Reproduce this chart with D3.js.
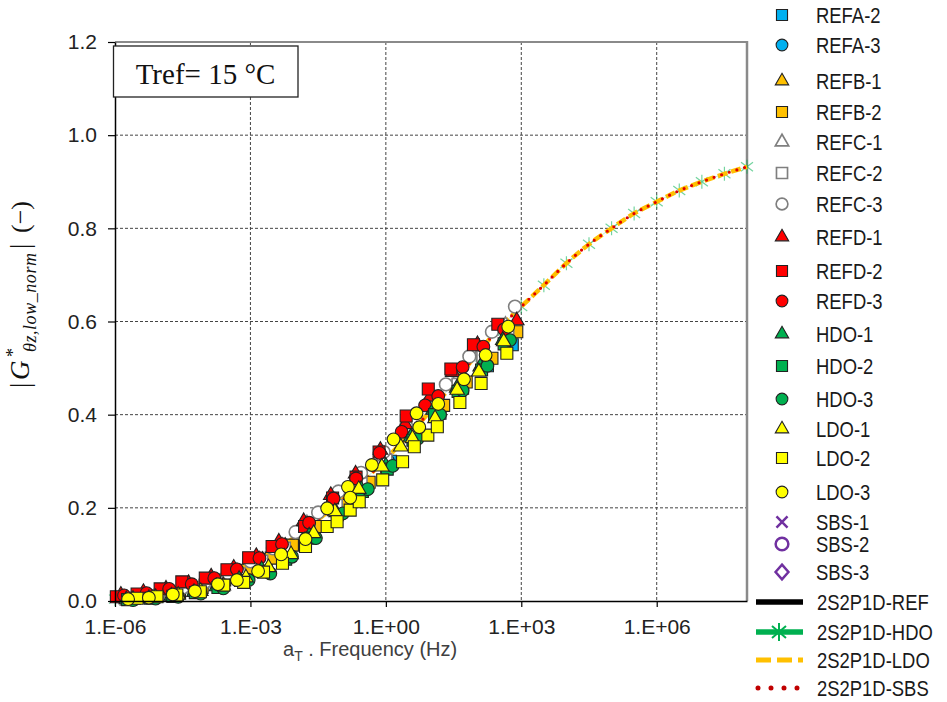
<!DOCTYPE html>
<html><head><meta charset="utf-8">
<script src="https://cdn.jsdelivr.net/npm/d3@7"></script>
<style>body{margin:0;background:#fff;} svg{display:block;}</style>
</head><body><svg id="c" width="947" height="702"></svg>
<script>
// ---------------- DATA (log10 of reduced frequency, normalized |G*|) ----------------
const xTickValues = [1e-6, 1e-3, 1e0, 1e3, 1e6];
const xTickLabels = ["1.E-06", "1.E-03", "1.E+00", "1.E+03", "1.E+06"];
const yTickValues = [0, 0.2, 0.4, 0.6, 0.8, 1.0, 1.2];
const yTickLabels = ["0.0", "0.2", "0.4", "0.6", "0.8", "1.0", "1.2"];

const refa2LogF = [-5.65,-5.15,-4.65,-4.15,-3.65,-3.15,-2.65,-2.15,-1.6,-1.0,-0.45,0.1,0.65,1.2,1.7,2.25,2.8];
const refa2G    = [0.004,0.008,0.014,0.024,0.038,0.060,0.086,0.116,0.153,0.199,0.248,0.300,0.354,0.403,0.457,0.505,0.550];
const refa3LogF = [-5.7,-5.2,-4.7,-4.2,-3.7,-3.2,-2.7,-2.2,-1.65,-1.05,-0.5,0.05,0.6,1.15,1.65,2.2,2.75];
const refa3G    = [0.005,0.009,0.016,0.027,0.042,0.062,0.088,0.119,0.155,0.202,0.248,0.300,0.357,0.410,0.465,0.522,0.575];
const refb1LogF = [-5.73,-5.23,-4.73,-4.23,-3.73,-3.23,-2.73,-2.23,-1.68,-1.08,-0.53,0.02,0.57,1.12,1.62,2.17,2.72];
const refb1G    = [0.005,0.010,0.016,0.027,0.041,0.061,0.088,0.118,0.157,0.203,0.250,0.302,0.358,0.410,0.462,0.525,0.580];
const refb2LogF = [-5.57,-5.07,-4.57,-4.07,-3.57,-3.07,-2.54,-2.07,-1.52,-0.92,-0.37,0.02,0.73,1.28,1.78,2.35,2.9];
const refb2G    = [0.006,0.011,0.018,0.029,0.045,0.066,0.092,0.120,0.160,0.205,0.255,0.288,0.365,0.420,0.470,0.521,0.578];
const refc1LogF = [-5.8,-5.3,-4.8,-4.3,-3.8,-3.3,-2.8,-2.3,-1.75,-1.15,-0.6,-0.05,0.5,1.05,1.55,2.1,2.65];
const refc1G    = [0.006,0.010,0.017,0.028,0.043,0.063,0.088,0.118,0.166,0.212,0.259,0.310,0.366,0.410,0.470,0.535,0.592];
const refc2LogF = [-5.75,-5.25,-4.75,-4.25,-3.75,-3.25,-2.75,-2.25,-1.7,-1.1,-0.55,0.0,0.55,1.1,1.6,2.15,2.7];
const refc2G    = [0.004,0.008,0.014,0.024,0.039,0.058,0.085,0.113,0.156,0.205,0.252,0.302,0.360,0.405,0.465,0.525,0.585];
const refc3LogF = [-5.5,-5.0,-4.5,-4.0,-3.5,-3.0,-2.5,-2.0,-1.5,-1.05,-0.55,-0.05,0.45,0.95,1.33,1.85,2.35,2.86];
const refc3G    = [0.012,0.020,0.029,0.042,0.060,0.085,0.113,0.148,0.190,0.235,0.275,0.320,0.375,0.425,0.465,0.525,0.578,0.632];
const refd1LogF = [-5.87,-5.37,-4.87,-4.37,-3.87,-3.37,-2.87,-2.37,-1.82,-1.22,-0.67,-0.12,0.43,0.98,1.48,2.03,2.9];
const refd1G    = [0.013,0.019,0.026,0.038,0.052,0.071,0.096,0.127,0.171,0.227,0.273,0.324,0.379,0.438,0.491,0.551,0.602];
const refd2LogF = [-5.97,-5.51,-5.0,-4.52,-4.0,-3.52,-3.04,-2.52,-1.8,-1.18,-0.66,-0.15,0.45,0.94,1.44,1.94,2.48];
const refd2G    = [0.009,0.015,0.026,0.041,0.049,0.067,0.093,0.117,0.160,0.221,0.266,0.320,0.397,0.455,0.498,0.550,0.594];
const refd3LogF = [-5.8,-5.3,-4.8,-4.3,-3.8,-3.3,-2.8,-2.3,-1.7,-1.16,-0.66,-0.14,0.35,0.87,1.16,1.7,2.16,2.62];
const refd3G    = [0.012,0.017,0.026,0.036,0.049,0.068,0.092,0.122,0.168,0.220,0.263,0.318,0.363,0.420,0.440,0.502,0.546,0.583];
const hdo1LogF  = [-5.75,-5.25,-4.75,-4.25,-3.75,-3.25,-2.75,-2.25,-1.7,-1.1,-0.55,0.0,0.55,1.05,1.57,2.09,2.59];
const hdo1G     = [0.003,0.006,0.011,0.019,0.031,0.047,0.068,0.095,0.140,0.190,0.240,0.290,0.352,0.410,0.457,0.503,0.560];
const hdo2LogF  = [-5.72,-5.22,-4.72,-4.22,-3.72,-3.22,-2.72,-2.22,-1.67,-1.07,-0.52,0.03,0.6,1.08,1.6,2.12,2.62];
const hdo2G     = [0.003,0.006,0.010,0.018,0.029,0.044,0.064,0.090,0.135,0.185,0.235,0.283,0.345,0.400,0.450,0.496,0.552];
const hdo3LogF  = [-5.6,-5.1,-4.6,-4.1,-3.6,-3.04,-2.56,-2.08,-1.55,-0.95,-0.4,0.15,0.7,1.2,1.7,2.25,2.75];
const hdo3G     = [0.002,0.005,0.009,0.016,0.027,0.045,0.059,0.095,0.135,0.188,0.240,0.290,0.348,0.400,0.452,0.505,0.560];
const ldo1LogF  = [-5.6,-5.1,-4.6,-4.1,-3.6,-3.1,-2.6,-2.1,-1.6,-1.13,-0.6,-0.09,0.33,0.59,1.09,1.58,2.06,2.61];
const ldo1G     = [0.004,0.008,0.013,0.021,0.033,0.050,0.072,0.100,0.145,0.192,0.240,0.288,0.331,0.349,0.392,0.453,0.492,0.557];
const ldo2LogF  = [-5.51,-5.07,-4.63,-4.11,-3.59,-3.15,-2.71,-2.29,-1.78,-1.3,-1.08,-0.79,-0.59,-0.07,0.37,0.63,0.93,1.14,1.64,2.11,2.68];
const ldo2G     = [0.006,0.009,0.013,0.020,0.034,0.040,0.062,0.081,0.117,0.160,0.170,0.195,0.213,0.260,0.299,0.331,0.356,0.374,0.426,0.467,0.532];
const ldo3LogF  = [-5.71,-5.25,-4.72,-4.23,-3.72,-3.3,-2.83,-2.32,-1.78,-1.3,-0.84,-0.79,-0.31,0.17,0.68,0.74,1.16,1.73,2.21,2.71];
const ldo3G     = [0.004,0.007,0.014,0.021,0.036,0.045,0.064,0.100,0.133,0.199,0.245,0.222,0.292,0.347,0.403,0.373,0.423,0.476,0.528,0.589];
const sbs1LogF = [], sbs1G = [];
const sbs2LogF = [], sbs2G = [];
const sbs3LogF = [], sbs3G = [];

// 2S2P1D model curves (half-decade points)
const modelLogF = [-6,-5.5,-5,-4.5,-4,-3.5,-3,-2.5,-2,-1.5,-1,-0.5,0,0.5,1,1.5,2,2.5,3,3.5,4,4.5,5,5.5,6,6.5,7,7.5,8];
const model2S2P1D_REF = [0.004,0.008,0.014,0.023,0.036,0.054,0.077,0.105,0.138,0.175,0.214,0.258,0.305,0.356,0.410,0.468,0.528,0.584,0.632,0.678,0.725,0.766,0.800,0.832,0.857,0.881,0.900,0.917,0.932];
const model2S2P1D_HDO = [0.004,0.008,0.014,0.023,0.036,0.054,0.077,0.105,0.138,0.175,0.214,0.258,0.305,0.356,0.410,0.468,0.528,0.584,0.632,0.678,0.725,0.766,0.800,0.832,0.857,0.881,0.900,0.917,0.932];
const model2S2P1D_LDO = [0.004,0.008,0.014,0.023,0.036,0.054,0.077,0.105,0.138,0.175,0.214,0.258,0.305,0.356,0.410,0.468,0.528,0.584,0.632,0.678,0.725,0.766,0.800,0.832,0.857,0.881,0.900,0.917,0.932];
const model2S2P1D_SBS = [0.004,0.008,0.014,0.023,0.036,0.054,0.077,0.105,0.138,0.175,0.214,0.258,0.305,0.356,0.410,0.468,0.528,0.584,0.632,0.678,0.725,0.766,0.800,0.832,0.857,0.881,0.900,0.917,0.932];

// ---------------- CHART ----------------
const svg = d3.select("#c");
const M = {left:115, right:747, top:42, bottom:601};
const x = d3.scaleLog().domain([1e-6, 1e8]).range([M.left, M.right]);
const y = d3.scaleLinear().domain([0, 1.2]).range([M.bottom, M.top]);

const BLUE="#00B0F0", ORANGE="#FFC000", RED="#FF0000", GREEN="#00B050", YELLOW="#FFFF00", PURPLE="#7030A0", GRAY="#7F7F7F";
const series = [
  {name:"REFA-2", lf:refa2LogF, g:refa2G, shape:"square", fill:BLUE, stroke:"#222"},
  {name:"REFA-3", lf:refa3LogF, g:refa3G, shape:"circle", fill:BLUE, stroke:"#222"},
  {name:"REFB-1", lf:refb1LogF, g:refb1G, shape:"triangle", fill:ORANGE, stroke:"#222"},
  {name:"REFB-2", lf:refb2LogF, g:refb2G, shape:"square", fill:ORANGE, stroke:"#222"},
  {name:"REFC-1", lf:refc1LogF, g:refc1G, shape:"triangle", fill:"#fff", stroke:GRAY},
  {name:"REFC-2", lf:refc2LogF, g:refc2G, shape:"square", fill:"#fff", stroke:GRAY},
  {name:"REFC-3", lf:refc3LogF, g:refc3G, shape:"circle", fill:"#fff", stroke:GRAY},
  {name:"REFD-1", lf:refd1LogF, g:refd1G, shape:"triangle", fill:RED, stroke:"#222"},
  {name:"REFD-2", lf:refd2LogF, g:refd2G, shape:"square", fill:RED, stroke:"#222"},
  {name:"REFD-3", lf:refd3LogF, g:refd3G, shape:"circle", fill:RED, stroke:"#222"},
  {name:"HDO-1", lf:hdo1LogF, g:hdo1G, shape:"triangle", fill:GREEN, stroke:"#222"},
  {name:"HDO-2", lf:hdo2LogF, g:hdo2G, shape:"square", fill:GREEN, stroke:"#222"},
  {name:"HDO-3", lf:hdo3LogF, g:hdo3G, shape:"circle", fill:GREEN, stroke:"#222"},
  {name:"LDO-1", lf:ldo1LogF, g:ldo1G, shape:"triangle", fill:YELLOW, stroke:"#222"},
  {name:"LDO-2", lf:ldo2LogF, g:ldo2G, shape:"square", fill:YELLOW, stroke:"#222"},
  {name:"LDO-3", lf:ldo3LogF, g:ldo3G, shape:"circle", fill:YELLOW, stroke:"#222"},
  {name:"SBS-1", lf:sbs1LogF, g:sbs1G, shape:"x", fill:"none", stroke:PURPLE},
  {name:"SBS-2", lf:sbs2LogF, g:sbs2G, shape:"ocircle", fill:"none", stroke:PURPLE},
  {name:"SBS-3", lf:sbs3LogF, g:sbs3G, shape:"diamond", fill:"none", stroke:PURPLE}
];
const models = [
  {name:"2S2P1D-REF", g:model2S2P1D_REF},
  {name:"2S2P1D-HDO", g:model2S2P1D_HDO},
  {name:"2S2P1D-LDO", g:model2S2P1D_LDO},
  {name:"2S2P1D-SBS", g:model2S2P1D_SBS}
];

function shapePath(s){
  switch(s){
    case "square": return d3.symbol().type(d3.symbolSquare).size(144)();
    case "circle": return d3.symbol().type(d3.symbolCircle).size(128)();
    case "triangle": return d3.symbol().type(d3.symbolTriangle).size(92)();
    case "x": return "M-6,-6L6,6M-6,6L6,-6";
    case "ocircle": return d3.symbol().type(d3.symbolCircle).size(150)();
    case "diamond": return "M0,-8L7,0L0,8L-7,0Z";
  }
}
const asterisk = "M0,-7V7M-6,-4.5L6,4.5M-6,4.5L6,-4.5";

// grid
const grid = svg.append("g");
grid.selectAll(".gy").data(yTickValues.filter(v => v>0 && v<1.2)).join("line")
  .attr("x1", M.left).attr("x2", M.right).attr("y1", d=>y(d)).attr("y2", d=>y(d))
  .attr("stroke","#444").attr("stroke-width",1).attr("stroke-dasharray","3,2");
grid.selectAll(".gx").data(xTickValues.slice(1)).join("line")
  .attr("x1", d=>x(d)).attr("x2", d=>x(d)).attr("y1", M.top).attr("y2", M.bottom)
  .attr("stroke","#444").attr("stroke-width",1).attr("stroke-dasharray","3,2");
// frame top/right
svg.append("line").attr("x1",M.left).attr("x2",M.right).attr("y1",M.top).attr("y2",M.top).attr("stroke","#8a8a8a").attr("stroke-width",2);
svg.append("line").attr("x1",M.right).attr("x2",M.right).attr("y1",M.top-1).attr("y2",M.bottom).attr("stroke","#8a8a8a").attr("stroke-width",2.5);

// model lines
const line = d3.line().x(d=>x(Math.pow(10,d[0]))).y(d=>y(d[1])).curve(d3.curveMonotoneX);
const pts = g => modelLogF.map((v,i)=>[v, g[i]]);
const gl = svg.append("g");
gl.append("path").attr("d", line(pts(models[1].g))).attr("fill","none").attr("stroke",GREEN).attr("stroke-opacity",0.25).attr("stroke-width",1);
gl.selectAll(".ast").data(pts(models[1].g)).join("path")
  .attr("d", asterisk).attr("transform", d=>`translate(${x(Math.pow(10,d[0]))},${y(d[1])})`)
  .attr("stroke", GREEN).attr("stroke-opacity",0.55).attr("stroke-width",1.2).attr("fill","none");
gl.append("path").attr("d", line(pts(models[0].g))).attr("fill","none").attr("stroke","#000").attr("stroke-opacity",0).attr("stroke-width",1);
gl.append("path").attr("d", line(pts(models[2].g))).attr("fill","none").attr("stroke",ORANGE).attr("stroke-width",4.5).attr("stroke-dasharray","10,4");
gl.append("path").attr("d", line(pts(models[3].g))).attr("fill","none").attr("stroke","#E00000").attr("stroke-width",3.2).attr("stroke-linecap","round").attr("stroke-dasharray","0,8");

// markers
const gm = svg.append("g");
series.forEach(s => {
  gm.selectAll(null).data(s.lf.map((v,i)=>[v, s.g[i]])).join("path")
    .attr("d", shapePath(s.shape))
    .attr("transform", d=>`translate(${x(Math.pow(10,d[0]))},${y(d[1])})`)
    .attr("fill", s.fill).attr("stroke", s.stroke)
    .attr("stroke-width", s.fill==="none" ? 2.5 : (s.stroke===GRAY ? 1.6 : 1.1));
});

// axes
const fontSans = "'Liberation Sans', Arial, sans-serif";
const ya = svg.append("g").attr("transform",`translate(${M.left},0)`)
  .call(d3.axisLeft(y).tickValues(yTickValues).tickFormat((d,i)=>yTickLabels[i]).tickSize(7).tickSizeOuter(0).tickPadding(11));
ya.select(".domain").attr("stroke","#000").attr("stroke-width",1.5);
ya.selectAll(".tick line").attr("stroke","#000").attr("stroke-width",1.2);
ya.selectAll("text").attr("font-family",fontSans).attr("font-size",21).attr("fill","#222");

const xa = svg.append("g").attr("transform",`translate(0,${M.bottom})`)
  .call(d3.axisBottom(x).tickValues(xTickValues).tickFormat((d,i)=>xTickLabels[i]).tickSize(6).tickSizeOuter(0).tickPadding(12));
xa.select(".domain").attr("stroke","#000").attr("stroke-width",1.5);
xa.selectAll(".tick line").attr("stroke","#000").attr("stroke-width",1.2);
xa.selectAll("text").attr("font-family",fontSans).attr("font-size",21).attr("fill","#222");

// x title
const xt = svg.append("text").attr("x",283).attr("y",656).attr("font-family",fontSans).attr("font-size",20).attr("fill","#404040");
xt.append("tspan").text("a");
xt.append("tspan").attr("font-size",14).attr("dy",5).text("T");
xt.append("tspan").attr("dy",-5).text(" . Frequency (Hz)");

// y title (math)
const serif = "'Liberation Serif','DejaVu Serif',serif";
const yg = svg.append("g").attr("transform","translate(29,388) rotate(-90)").attr("fill","#111").attr("font-family",serif);
yg.append("text").attr("x",0).attr("y",0).attr("font-size",27).text("|");
yg.append("text").attr("x",8).attr("y",0).attr("font-size",27).attr("font-style","italic").text("G");
yg.append("text").attr("x",31).attr("y",-10).attr("font-size",18).text("*");
yg.append("text").attr("x",36).attr("y",7).attr("font-size",18).attr("font-style","italic").attr("textLength",99).attr("lengthAdjust","spacing").text("θz,low_norm");
yg.append("text").attr("x",139).attr("y",0).attr("font-size",27).text("|");
yg.append("text").attr("x",155).attr("y",0).attr("font-size",26).text("(−)");

// Tref box
svg.append("rect").attr("x",113.5).attr("y",46).attr("width",184.5).attr("height",51).attr("fill","#fff").attr("stroke","#222").attr("stroke-width",1.3);
svg.append("text").attr("x",205.5).attr("y",84).attr("text-anchor","middle").attr("font-family",serif).attr("font-size",29).attr("fill","#111").text("Tref= 15 °C");

// legend (narrow sans: Liberation Sans compressed horizontally)
const legY = [15,45,81,112,142,173,204,237,271,301,334,366,399,429,458,492,522,544,572];
const lg = svg.append("g");
function legText(xp, yp, str){
  lg.append("text").attr("transform",`translate(${xp},${yp}) scale(0.82,1)`).attr("x",0).attr("y",0).attr("dy","0.36em")
    .attr("font-family",fontSans).attr("font-size",22.5).attr("fill","#1a1a1a").text(str);
}
series.forEach((s,i) => {
  lg.append("path").attr("d", shapePath(s.shape)).attr("transform",`translate(782,${legY[i]}) scale(0.92)`)
    .attr("fill", s.fill).attr("stroke", s.stroke).attr("stroke-width", s.fill==="none" ? 2.7 : (s.stroke===GRAY?1.8:1.2));
  legText(816, legY[i], s.name);
});
const legLY = [602,632,660,688];
const lstyles = [
  {stroke:"#000", w:5.5, dash:null, cap:"butt"},
  {stroke:GREEN, w:5.5, dash:null, cap:"butt"},
  {stroke:ORANGE, w:5, dash:"15,6", cap:"butt"},
  {stroke:"#C00000", w:5, dash:"0,13", cap:"round"}
];
models.forEach((m,i) => {
  const st = lstyles[i];
  lg.append("line").attr("x1", i===3?758:756).attr("x2",803).attr("y1",legLY[i]).attr("y2",legLY[i])
    .attr("stroke",st.stroke).attr("stroke-width",st.w).attr("stroke-linecap",st.cap).attr("stroke-dasharray",st.dash);
  if(i===1) lg.append("path").attr("d","M0,-9V9M-7,-6L7,6M-7,6L7,-6").attr("transform",`translate(779,${legLY[i]})`).attr("stroke",GREEN).attr("stroke-width",2).attr("fill","none");
  legText(817, legLY[i], m.name);
});
</script></body></html>
